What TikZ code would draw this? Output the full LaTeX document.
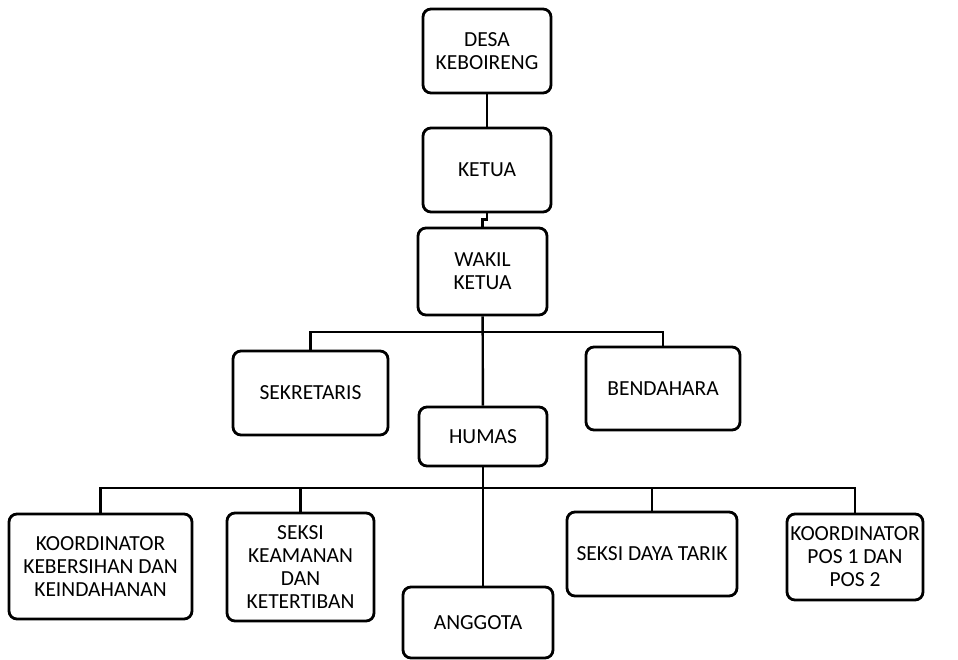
\documentclass[tikz,border=0pt]{standalone}
\usepackage{fontspec}
\setmainfont{Carlito}

\tikzstyle{unit}=[rectangle, draw, rounded corners=8pt, line width=2.8pt,
                  align=center, inner sep=2pt,
                  font=\fontsize{21.5}{23}\selectfont]
\tikzstyle{link} = [draw, line width=2.4pt, -]

\begin{document}
\begin{tikzpicture}[x=1pt, y=-1pt]
    \useasboundingbox (0,0) rectangle (958,660);
    % First we draw the boxes
    \foreach \pos/\name/\w/\h/\txt in {
        {(487,51)/desa/128/84/DESA\\KEBOIRENG},
        {(487,170)/ketua/128/84/KETUA},
        {(482.5,271.5)/wakil/129/87/WAKIL\\KETUA},
        {(310.5,393)/sekretaris/155/84/SEKRETARIS},
        {(663,388.5)/bendahara/154/83/BENDAHARA},
        {(483,436.5)/humas/128/59/HUMAS},
        {(100.5,566.5)/kebersihan/183/105/KOORDINATOR\\KEBERSIHAN DAN\\KEINDAHANAN},
        {(300.5,567)/keamanan/147/108/SEKSI\\KEAMANAN\\DAN\\KETERTIBAN},
        {(478,622.5)/anggota/150/71/ANGGOTA},
        {(652,554)/dayatarik/170/84/SEKSI DAYA TARIK},
        {(855,557)/pos/136/86/KOORDINATOR\\POS 1 DAN\\POS 2}}
      \node[unit, minimum width=\w pt, minimum height=\h pt] (\name) at \pos {\txt};
    \coordinate (bar1) at (483,332);
    \coordinate (bar2) at (483,488);
    % Connect boxes with lines
    \path[link] (desa) -- (ketua);
    \path[link] (ketua.south) -- ++(0,6) -| (wakil.north);
    \path[link] (wakil) -- (humas);
    \foreach \source/\dest in {sekretaris.north/bar1, kebersihan.north/bar2,
                               keamanan.north/bar2}
      \path[link] (\source) |- (\dest);
    \foreach \source/\dest in {bar1/bendahara.north, bar2/dayatarik.north,
                               bar2/pos.north}
      \path[link] (\source) -| (\dest);
    \path[link] (humas) -- (bar2) -- (bar2 |- anggota.north);
\end{tikzpicture}
\end{document}
